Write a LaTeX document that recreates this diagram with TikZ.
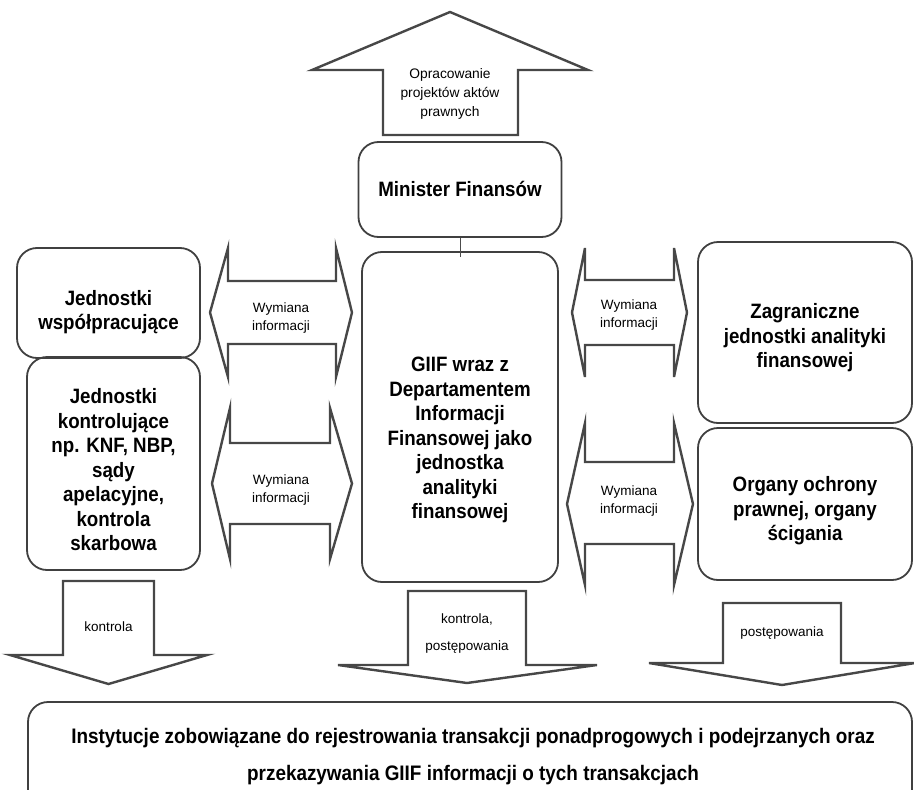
\documentclass[tikz,border=0pt]{standalone}
\usepackage{fontspec}
\setmainfont{Liberation Sans}
\newfontfamily\narrowsans[FakeStretch=0.9]{Liberation Sans}
\usetikzlibrary{positioning}

\tikzset{
  box/.style={draw=black!75, line width=1.8pt, rounded corners=20pt},
  blockarrow/.style={draw=black!72, line width=2.4pt, line join=miter},
  link/.style={draw=black!70, line width=1pt},
  bigtxt/.style={align=center, font=\narrowsans\bfseries\fontsize{20.8}{24.5}\selectfont},
  smalltxt/.style={align=center, font=\fontsize{13.5}{18}\selectfont},
}

\begin{document}
\begin{tikzpicture}[x=1pt,y=-1pt]
    \useasboundingbox (0,0) rectangle (914,790);

    % boxes
    \node[box, minimum width=203pt, minimum height=95pt] (minister) at (460,189.5) {};
    \node[box, minimum width=183pt, minimum height=110pt] (wsp) at (108.5,303) {};
    \node[box, minimum width=173pt, minimum height=213pt] (kontr) at (113.5,463.5) {};
    \node[box, minimum width=196pt, minimum height=330pt] (giif) at (460,417) {};
    \node[box, minimum width=214pt, minimum height=181pt] (zagr) at (805,332.5) {};
    \node[box, minimum width=214pt, minimum height=152pt] (organy) at (805,504) {};
    \node[box, minimum width=884pt, minimum height=128pt] (inst) at (470,766) {};

    \draw[link] (minister.south) -- ([yshift=-6pt]giif.north);

    \node[bigtxt] (ministertxt) at (460,189) {Minister Finansów};
    \node[bigtxt] (wsptxt) at (108.5,312) {Jednostki\\współpracujące};
    \node[bigtxt] (kontrtxt) at (113.5,470) {Jednostki\\kontrolujące\\np. KNF, NBP,\\sądy\\apelacyjne,\\kontrola\\skarbowa};
    \node[bigtxt] (giiftxt) at (460,440) {GIIF wraz z\\Departamentem\\Informacji\\Finansowej jako\\jednostka\\analityki\\finansowej};
    \node[bigtxt] (zagrtxt) at (805,338) {Zagraniczne\\jednostki analityki\\finansowej};
    \node[bigtxt] (organytxt) at (805,511) {Organy ochrony\\prawnej, organy\\ścigania};
    \node[bigtxt, font=\narrowsans\bfseries\fontsize{21}{37}\selectfont] (insttxt) at (473,756.5)
      {Instytucje zobowiązane do rejestrowania transakcji ponadprogowych i podejrzanych oraz\\przekazywania GIIF informacji o tych transakcjach};

    % block arrows
    \draw[blockarrow] (383,135) -- (383,70) -- (312,70) -- (450,12) -- (588,70) -- (518,70) -- (518,135) -- cycle;
    \draw[blockarrow] (228,281) -- (228,248) -- (210,312.5) -- (228,377) -- (228,344) -- (336,344) -- (336,377) -- (352,312.5) -- (336,248) -- (336,281) -- cycle;
    \draw[blockarrow] (230,443) -- (230,408) -- (212,483.5) -- (230,559) -- (230,524) -- (330,524) -- (330,559) -- (352,483.5) -- (330,408) -- (330,443) -- cycle;
    \draw[blockarrow] (585,280) -- (585,248) -- (572,312.5) -- (585,377) -- (585,345) -- (674,345) -- (674,377) -- (687,312.5) -- (674,248) -- (674,280) -- cycle;
    \draw[blockarrow] (585,462) -- (585,423) -- (567,504) -- (585,585) -- (585,544) -- (674,544) -- (674,585) -- (693,504) -- (674,423) -- (674,462) -- cycle;
    \draw[blockarrow] (63,581) -- (154,581) -- (154,655) -- (207,655) -- (108.5,684) -- (10,655) -- (63,655) -- cycle;
    \draw[blockarrow] (408,591) -- (526,591) -- (526,665) -- (597,665) -- (467,683) -- (338,665) -- (408,665) -- cycle;
    \draw[blockarrow] (723,603) -- (841,603) -- (841,663) -- (915,663) -- (782,685) -- (649,663) -- (723,663) -- cycle;

    \node[smalltxt, font=\fontsize{13.8}{19}\selectfont] (opr) at (450,94) {Opracowanie\\projektów aktów\\prawnych};
    \node[smalltxt] (wym1) at (281,318.5) {Wymiana\\informacji};
    \node[smalltxt] (wym2) at (281,490) {Wymiana\\informacji};
    \node[smalltxt] (wym3) at (629,315) {Wymiana\\informacji};
    \node[smalltxt] (wym4) at (629,501) {Wymiana\\informacji};
    \node[smalltxt] (kontrola) at (108.5,627) {kontrola};
    \node[smalltxt, font=\fontsize{13.5}{27}\selectfont] (kontrpost) at (467,633.5) {kontrola,\\postępowania};
    \node[smalltxt] (post) at (782,633) {postępowania};
\end{tikzpicture}
\end{document}
